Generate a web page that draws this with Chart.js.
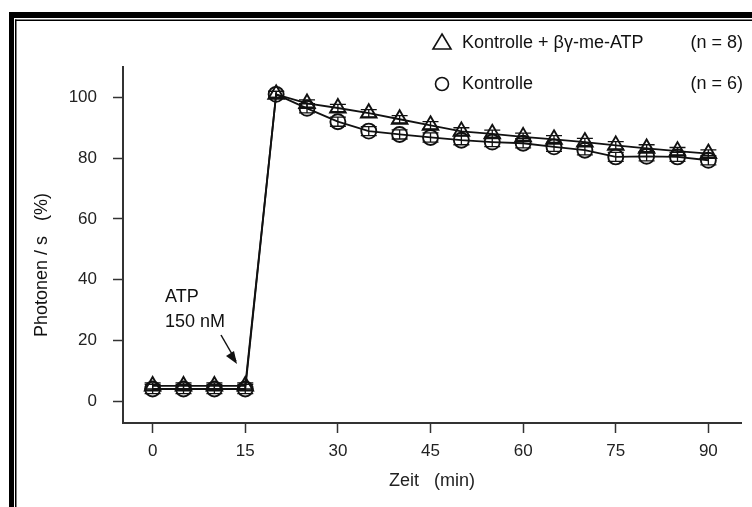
<!DOCTYPE html>
<html>
<head>
<meta charset="utf-8">
<script src="https://cdn.jsdelivr.net/npm/chart.js@4.4.1/dist/chart.umd.min.js"></script>
<style>
  html, body { margin: 0; padding: 0; background: #fff; }
  #wrap { width: 752px; height: 507px; }
</style>
</head>
<body>
<div id="wrap"><canvas id="chart" width="752" height="507"></canvas></div>
<script>
// Daten
const zeit = [0, 5, 10, 15, 20, 25, 30, 35, 40, 45, 50, 55, 60, 65, 70, 75, 80, 85, 90];
const mitHemmer = [5, 5, 5, 5, 101, 98, 96.5, 94.8, 92.8, 90.8, 88.8, 88, 87, 86.2, 85.3, 84.2, 83.2, 82.3, 81.5];
const mitHemmerFehler = [1, 1, 1, 1, 1, 1.2, 1.2, 1.2, 1.2, 1.2, 1.2, 1.2, 1.2, 1.2, 1.2, 1.2, 1.2, 1.2, 1.2];
const kontrolle = [4, 4, 4, 4, 101, 96.4, 92, 88.9, 87.8, 86.8, 85.9, 85.3, 84.9, 83.7, 82.6, 80.4, 80.6, 80.4, 79.3];
const kontrolleFehler = [1.5, 1.5, 1.5, 1.5, 1, 1.5, 1.5, 1.5, 1.5, 1.5, 1.5, 1.5, 1.5, 1.5, 1.5, 1.5, 1.5, 1.5, 1.5];
const xTicks = [0, 15, 30, 45, 60, 75, 90];
const yTicks = [0, 20, 40, 60, 80, 100];

const FONT = '"Liberation Sans", Arial, Helvetica, sans-serif';

function punkte(werte, fehler) {
  return zeit.map((t, i) => ({ x: t, y: werte[i], err: fehler[i] }));
}

// Fehlerbalken (vertikal + Querstriche)
const fehlerBalken = {
  id: 'fehlerBalken',
  afterDatasetsDraw(chart) {
    const { ctx, scales: { x, y } } = chart;
    ctx.save();
    ctx.strokeStyle = '#111';
    ctx.lineWidth = 1.3;
    chart.data.datasets.forEach(ds => {
      ds.data.forEach(p => {
        const px = x.getPixelForValue(p.x);
        const y1 = y.getPixelForValue(p.y + p.err);
        const y2 = y.getPixelForValue(p.y - p.err);
        ctx.beginPath();
        ctx.moveTo(px, y1); ctx.lineTo(px, y2);
        ctx.moveTo(px - 8, y1); ctx.lineTo(px + 8, y1);
        ctx.moveTo(px - 8, y2); ctx.lineTo(px + 8, y2);
        ctx.stroke();
      });
    });
    ctx.restore();
  }
};

// Rahmen, Legende, Beschriftungen
const extras = {
  id: 'extras',
  afterDraw(chart) {
    const ctx = chart.ctx;
    ctx.save();
    // Rahmen oben / links
    ctx.fillStyle = '#000';
    ctx.fillRect(9, 12, 752 - 9, 6);
    ctx.fillRect(9, 12, 5, 507 - 12);
    ctx.fillRect(15, 19.5, 752 - 15, 1.5);
    ctx.fillRect(15, 19.5, 1.5, 507 - 19.5);

    ctx.fillStyle = '#111';
    ctx.strokeStyle = '#111';
    ctx.font = '18px ' + FONT;
    ctx.textBaseline = 'middle';

    // Legende
    ctx.lineWidth = 1.6;
    ctx.beginPath();
    ctx.moveTo(442, 34); ctx.lineTo(451, 49); ctx.lineTo(433, 49); ctx.closePath();
    ctx.stroke();
    ctx.beginPath();
    ctx.arc(442, 84, 6.5, 0, Math.PI * 2);
    ctx.stroke();
    ctx.textAlign = 'left';
    ctx.fillText('Kontrolle + \u03b2\u03b3-me-ATP', 462, 43);
    ctx.fillText('Kontrolle', 462, 84);
    ctx.textAlign = 'right';
    ctx.fillText('(n = 8)', 743, 43);
    ctx.fillText('(n = 6)', 743, 84);

    // ATP-Zugabe
    ctx.textAlign = 'left';
    ctx.fillText('ATP', 165, 297);
    ctx.fillText('150 nM', 165, 322);
    ctx.lineWidth = 1.5;
    ctx.beginPath();
    ctx.moveTo(221, 335); ctx.lineTo(236, 361);
    ctx.stroke();
    ctx.beginPath();
    ctx.moveTo(237, 364); ctx.lineTo(226, 356); ctx.lineTo(234, 351); ctx.closePath();
    ctx.fill();

    // y-Achsentitel
    ctx.translate(42, 265);
    ctx.rotate(-Math.PI / 2);
    ctx.textAlign = 'center';
    ctx.fillText('Photonen / s   (%)', 0, 0);
    ctx.restore();
  }
};

new Chart(document.getElementById('chart'), {
  type: 'scatter',
  data: {
    datasets: [
      {
        label: 'Kontrolle + \u03b2\u03b3-me-ATP',
        data: punkte(mitHemmer, mitHemmerFehler),
        showLine: true,
        borderColor: '#111',
        borderWidth: 1.8,
        pointStyle: 'triangle',
        pointRadius: 9,
        pointBorderWidth: 1.9,
        pointBorderColor: '#111',
        pointBackgroundColor: 'rgba(255,255,255,0)'
      },
      {
        label: 'Kontrolle',
        data: punkte(kontrolle, kontrolleFehler),
        showLine: true,
        borderColor: '#111',
        borderWidth: 1.8,
        pointStyle: 'circle',
        pointRadius: 7.5,
        pointBorderWidth: 1.9,
        pointBorderColor: '#111',
        pointBackgroundColor: 'rgba(255,255,255,0)'
      }
    ]
  },
  options: {
    responsive: false,
    animation: false,
    layout: { padding: { top: 67, right: 7, left: 0, bottom: 0 } },
    plugins: { legend: { display: false }, tooltip: { enabled: false } },
    scales: {
      x: {
        type: 'linear',
        min: -4.8,
        max: 95.3,
        afterFit(scale) { scale.height = 84; },
        afterBuildTicks(scale) { scale.ticks = xTicks.map(v => ({ value: v })); },
        grid: { drawOnChartArea: false, tickLength: 10, tickColor: '#333', tickWidth: 1.5 },
        border: { display: true, color: '#333', width: 2 },
        ticks: { color: '#222', font: { size: 17, family: FONT }, padding: 8, maxRotation: 0 },
        title: { display: true, text: 'Zeit   (min)', color: '#222', font: { size: 18, family: FONT }, padding: { bottom: 15 } }
      },
      y: {
        min: -7.2,
        max: 110,
        afterFit(scale) { scale.width = 123; },
        afterBuildTicks(scale) { scale.ticks = yTicks.map(v => ({ value: v })); },
        grid: { drawOnChartArea: false, tickLength: 10, tickColor: '#333', tickWidth: 1.5 },
        border: { display: true, color: '#333', width: 2 },
        ticks: { color: '#222', font: { size: 17, family: FONT }, padding: 16 }
      }
    }
  },
  plugins: [fehlerBalken, extras]
});
</script>
</body>
</html>
